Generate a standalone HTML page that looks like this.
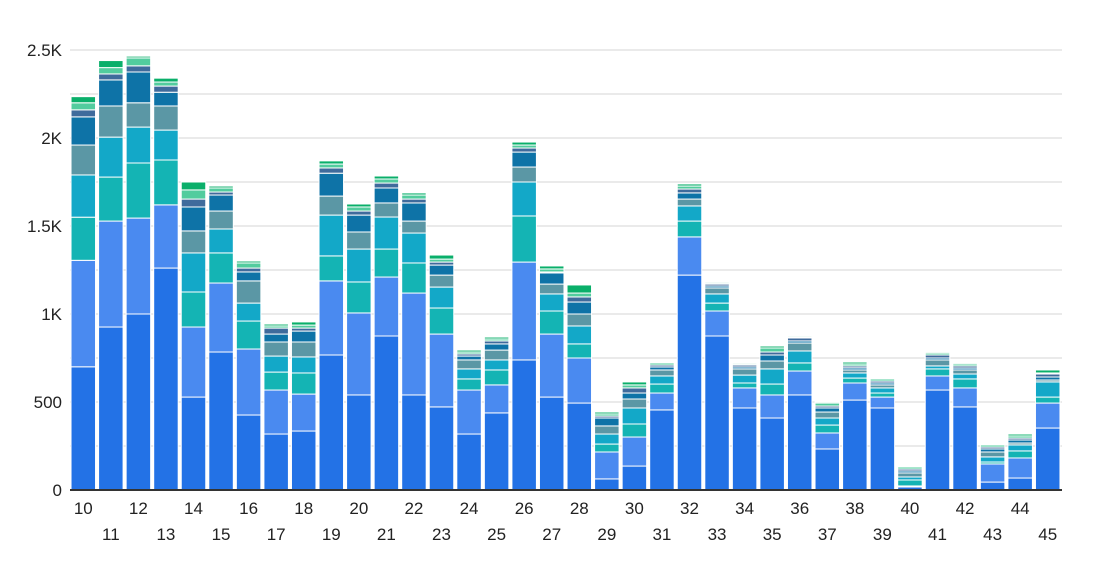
<!DOCTYPE html>
<html><head><meta charset="utf-8"><style>
html,body{margin:0;padding:0;background:#fff;width:1100px;height:572px;overflow:hidden}
svg{display:block;font-family:"Liberation Sans",sans-serif}
</style></head><body>
<svg id="chart" width="1100" height="572" viewBox="0 0 1100 572"></svg>
<script>
const categories = ["10","11","12","13","14","15","16","17","18","19","20","21","22","23","24","25","26","27","28","29","30","31","32","33","34","35","36","37","38","39","40","41","42","43","44","45"];
const s1 = [700,926,1000,1261,528,784,426,318,335,767,540,875,540,472,318,438,739,528,494,63,136,455,1221,875,466,409,540,233,511,466,17,568,472,45,68,352];
const s2 = [605,602,545,359,398,392,375,250,210,421,466,335,579,414,250,159,556,358,256,153,165,96,217,142,114,131,136,91,97,62,6,80,108,103,114,142];
const s3 = [245,250,313,255,199,171,159,102,120,142,176,159,171,148,63,85,262,131,80,45,74,51,90,45,28,62,46,45,28,23,34,40,51,11,40,34];
const s4 = [240,227,204,170,222,136,102,91,91,232,187,182,170,119,57,57,193,97,102,57,91,46,86,52,45,86,68,40,29,29,17,17,28,29,34,86];
const s5 = [170,177,138,137,125,102,126,80,85,108,97,80,68,68,51,56,85,56,68,46,51,34,39,34,35,45,45,34,17,17,23,34,23,28,11,11];
const s6 = [160,148,175,78,136,91,51,45,62,130,96,85,103,57,22,35,85,63,68,45,34,17,35,11,11,34,12,23,12,11,11,11,11,17,17,17];
const s7 = [40,34,35,35,45,17,22,34,17,30,23,28,22,17,12,17,23,6,29,11,29,11,22,11,11,17,17,11,11,11,11,17,12,11,11,17];
const s8 = [40,36,45,23,52,23,29,12,17,22,23,23,23,17,11,11,17,17,22,12,17,12,17,6,6,23,5,17,11,12,12,11,11,12,12,6];
const s9 = [35,40,10,22,45,11,11,11,18,18,17,17,12,23,11,11,17,17,46,11,17,5,12,6,6,11,6,6,11,3,5,6,6,5,11,17];
const yTicks = [0,500,1000,1500,2000,2500];
const yTickLabels = ["0","500","1K","1.5K","2K","2.5K"];

const series = [s1,s2,s3,s4,s5,s6,s7,s8,s9];
const colors = ["#2372e6","#4a8af0","#14b4b4","#13a8c8","#5b97a5","#0e73a7","#3f6b9c","#52cc9e","#0aaf6a"];
const NS = "http://www.w3.org/2000/svg";
const svg = document.getElementById("chart");
const x0 = 70, x1 = 1062, yBase = 490, yTop = 50, vMax = 2500;
const step = (x1 - x0) / categories.length;
const bw = 24.5;
function y(v){ return yBase - v / vMax * (yBase - yTop); }
function xc(i){ return x0 + step * (i + 0.5) - 0.5; }
function mk(tag, attrs){ const e = document.createElementNS(NS, tag); for (const k in attrs) e.setAttribute(k, attrs[k]); svg.appendChild(e); return e; }

for (let v = 0; v <= vMax; v += 250) {
  if (v === 0) continue;
  const g = mk("line", {x1:x0, x2:x1, y1:y(v), y2:y(v), stroke:"#d4d4d4", "stroke-width":1});
  
  
}
yTicks.forEach((v, i) => {
  const t = mk("text", {x:62, y:y(v)+6, "text-anchor":"end", "font-size":17, fill:"#222"});
  t.textContent = yTickLabels[i];
  
  
});
categories.forEach((c, i) => {
  let cum = 0;
  series.forEach((s, k) => {
    const v = s[i];
    const r = mk("rect", {x:xc(i)-bw/2, y:y(cum+v), width:bw, height:Math.max(0, y(cum)-y(cum+v)), fill:colors[k], stroke:"#fff", "stroke-width":1});
    
    
    cum += v;
  });
  const odd = i % 2 === 1;
  const t = mk("text", {x:xc(i), y: odd ? 540 : 514, "text-anchor":"middle", "font-size":17, fill:"#222"});
  t.textContent = c;
  
  
});
const ax = mk("line", {x1:x0, x2:x1, y1:yBase, y2:yBase, stroke:"#333", "stroke-width":2});


</script>
</body></html>
